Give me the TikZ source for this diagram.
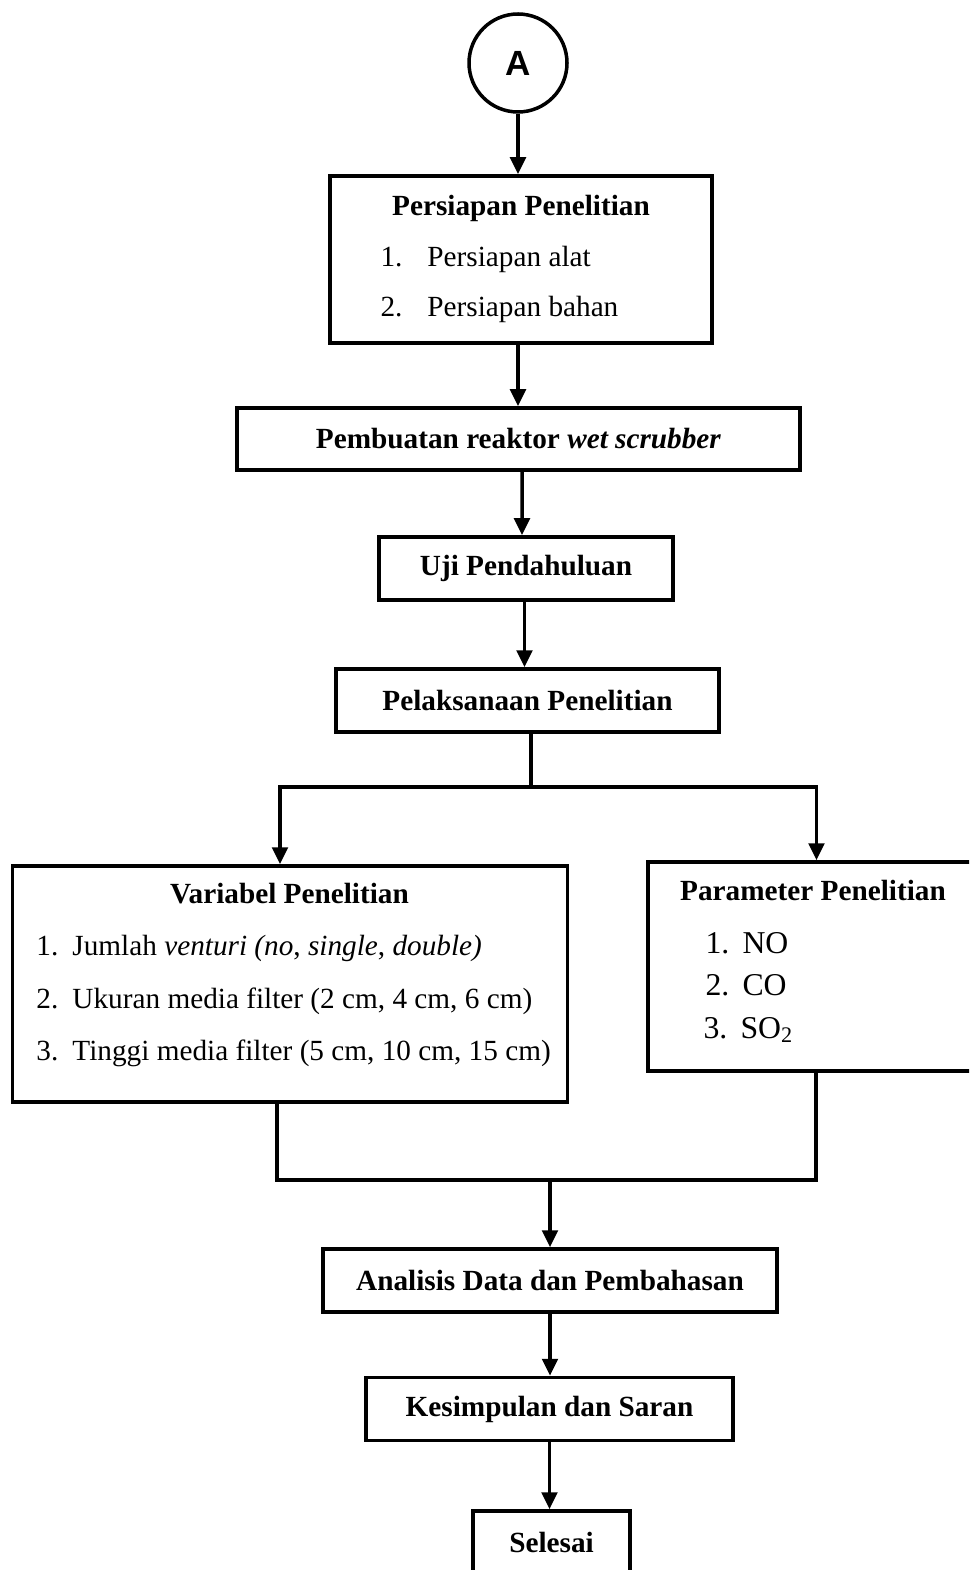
\documentclass[tikz,border=0pt]{standalone}
\usepackage{fontspec}
\setmainfont{Liberation Serif}
\newfontfamily\labelsans{Liberation Sans}
\usetikzlibrary{calc,positioning,arrows.meta}

\newcommand\txt{\fontsize{11.7}{14}\selectfont}

\tikzset{
    stepbox/.style={draw, line width=1.4pt, font=\txt\bfseries},
    listbox/.style={draw, line width=1.4pt},
    itemtxt/.style={anchor=base west, font=\txt},
    titletxt/.style={anchor=base, font=\txt\bfseries},
    flow/.style={-{Triangle[length=6.8pt,width=6.2pt]}, line width=1.4pt},
    joint/.style={line width=1.4pt},
}

\begin{document}
\begin{tikzpicture}[x=0.4pt, y=-0.4pt, every node/.style={inner sep=0pt}]

    \clip (0,0) rectangle (969,1570);

    % Start.
    \node[draw, circle, line width=1.4pt, minimum size=39.2pt,
        font=\labelsans\bfseries\fontsize{14}{16}\selectfont] (circA) at (518,63) {A};

    % Persiapan.
    \node[listbox, minimum width=152.8pt, minimum height=66.8pt] (prep) at (521,259.5) {};
    \node[titletxt] (prepT) at (521,216) {Persiapan Penelitian};
    \node[itemtxt] (prep1) at (380,267) {\makebox[18.8pt][l]{1.}Persiapan alat};
    \node[itemtxt] (prep2) at (380,317) {\makebox[18.8pt][l]{2.}Persiapan bahan};

    \node[stepbox, minimum width=225.2pt, minimum height=24.8pt] (buat) at (518.5,439)
        {Pembuatan reaktor \textit{wet scrubber}};
    \node[stepbox, minimum width=117.6pt, minimum height=25.2pt] (uji) at (526,568.5)
        {Uji Pendahuluan};
    \node[stepbox, minimum width=153.2pt, minimum height=25.2pt] (laks) at (527.5,700.5)
        {Pelaksanaan Penelitian};

    % Variabel.
    \node[listbox, minimum width=222pt, minimum height=94.4pt] (var) at (290,984) {};
    \node[titletxt] (varT) at (289.5,903) {Variabel Penelitian};
    \node[itemtxt] (var1) at (36,955)
        {\makebox[14.4pt][l]{1.}Jumlah \textit{venturi (no}, \textit{single}, \textit{double)}};
    \node[itemtxt] (var2) at (36,1008)
        {\makebox[14.4pt][l]{2.}Ukuran media filter (2 cm, 4 cm, 6 cm)};
    \node[itemtxt] (var3) at (36,1060)
        {\makebox[14.4pt][l]{3.}Tinggi media filter (5 cm, 10 cm, 15 cm)};

    % Parameter.
    \node[listbox, minimum width=134.8pt, minimum height=83.6pt] (param) at (816.5,966.5) {};
    \node[titletxt] (paramT) at (813,900) {Parameter Penelitian};
    \node[itemtxt, font=\fontsize{12.7}{15}\selectfont] (param1) at (705,953)
        {\makebox[14.8pt][l]{1.}NO};
    \node[itemtxt, font=\fontsize{12.7}{15}\selectfont] (param2) at (705,995)
        {\makebox[14.8pt][l]{2.}CO};
    \node[itemtxt, font=\fontsize{12.7}{15}\selectfont] (param3) at (703,1038)
        {\makebox[14.8pt][l]{3.}SO\textsubscript{2}};

    \node[stepbox, minimum width=181.6pt, minimum height=25.2pt] (anal) at (550,1280.5)
        {Analisis Data dan Pembahasan};
    \node[stepbox, minimum width=146.8pt, minimum height=25.2pt] (kes) at (549.5,1409)
        {Kesimpulan dan Saran};
    \node[stepbox, minimum width=62.8pt, minimum height=25.2pt] (sel) at (551.5,1542.5)
        {Selesai};

    % Connectors.
    \draw[flow] (circA) -- (circA |- prep.north);
    \draw[flow] (prep.south -| circA) -- (circA |- buat.north);
    \draw[flow] (uji.north |- buat.south) ++(-4,0) -- ([xshift=-1.6pt]uji.north);
    \draw[flow] ([xshift=-1.2pt]laks.north |- uji.south) -- ([xshift=-1.2pt]laks.north);

    % Split into variabel and parameter.
    \coordinate (split) at (531,787);
    \coordinate (splitL) at (280,787);
    \coordinate (splitR) at (816.5,787);
    \draw[joint] (laks.south -| split) -- (split);
    \draw[joint] (splitL) -- (splitR);
    \draw[flow] ([yshift=0.7pt]splitL) -- (splitL |- var.north);
    \draw[flow] ([yshift=0.7pt]splitR) -- (param.north);

    % Join again.
    \coordinate (mergeL) at (277,1180);
    \coordinate (mergeR) at (816,1180);
    \draw[joint] (mergeL |- var.south) -- (mergeL) -- (mergeR) -- (mergeR |- param.south);
    \draw[flow] (anal.north |- mergeL) -- (anal.north);

    \draw[flow] (anal.south) -- (anal.south |- kes.north);
    \draw[flow] (kes.south) -- (kes.south |- sel.north);

\end{tikzpicture}
\end{document}
